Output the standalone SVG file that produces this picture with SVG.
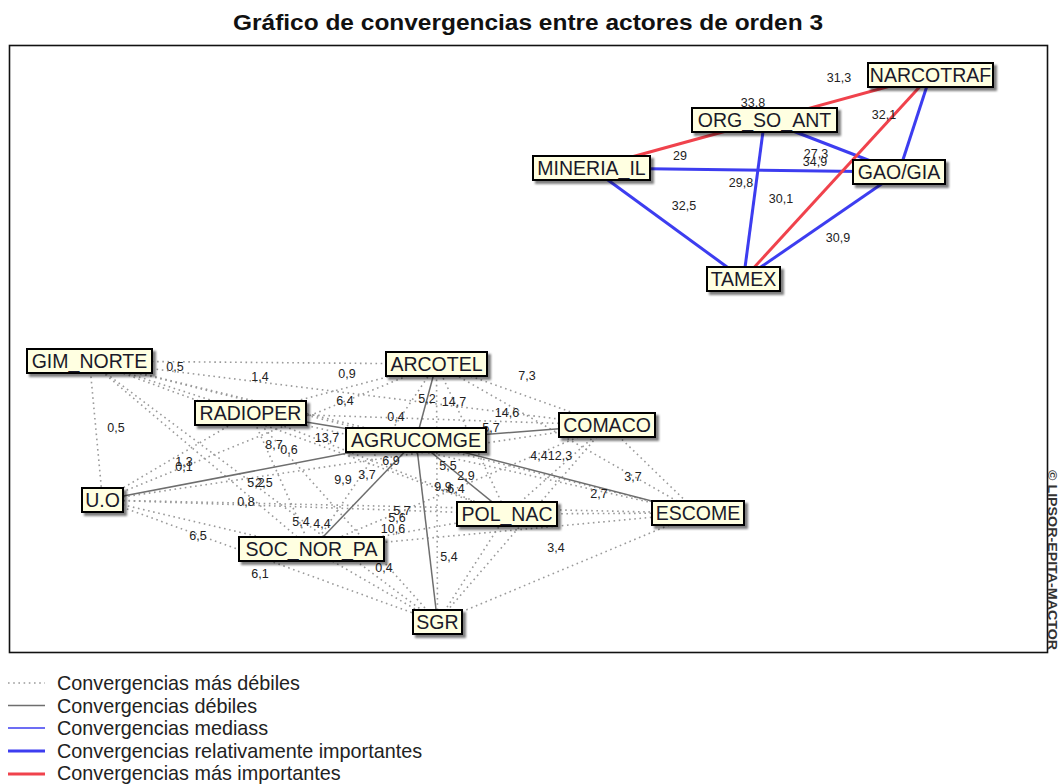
<svg xmlns="http://www.w3.org/2000/svg" width="1058" height="784" viewBox="0 0 1058 784">
  <defs>
    <filter id="shadow" x="-20%" y="-30%" width="150%" height="180%">
      <feDropShadow dx="3" dy="3" stdDeviation="1.3" flood-color="#000" flood-opacity="0.5"/>
    </filter>
    <style>
      .dot { stroke: #9a9a9a; stroke-width: 1.6; stroke-dasharray: 1.6 3.6; fill: none; }
      .weak { stroke: #6e6e6e; stroke-width: 1.5; fill: none; }
      .mid { stroke: #3d3df0; stroke-width: 1.5; fill: none; }
      .rel { stroke: #3d3df0; stroke-width: 3; fill: none; }
      .top { stroke: #f0424c; stroke-width: 3; fill: none; }
      .node rect { fill: #ffffe1; stroke: #000; stroke-width: 2; filter: url(#shadow); }
      .node text { font-family: "Liberation Sans", Arial, sans-serif; font-size: 19.5px; fill: #1a1a2a; text-anchor: middle; }
      .val { font-family: "Liberation Sans", Arial, sans-serif; font-size: 12.5px; fill: #222; text-anchor: middle; }
      .title { font-family: "Liberation Sans", Arial, sans-serif; font-size: 22px; font-weight: bold; fill: #111; text-anchor: middle; }
      .leg { font-family: "Liberation Sans", Arial, sans-serif; font-size: 19.8px; fill: #222; }
    </style>
  </defs>

  <rect width="1058" height="784" fill="#fff"/>

  <text class="title" x="528" y="30" textLength="590" lengthAdjust="spacingAndGlyphs">Gráfico de convergencias entre actores de orden 3</text>

  <!-- plot frame -->
  <rect x="9.5" y="45.5" width="1038" height="607" fill="none" stroke="#111" stroke-width="1.6"/>

  <text x="1048" y="470" transform="rotate(90 1048 470)" font-family="'Liberation Sans', Arial, sans-serif" font-size="12" font-weight="bold" fill="#333" textLength="180" lengthAdjust="spacingAndGlyphs">© LIPSOR-EPITA-MACTOR</text>

  <g id="connectors">
    <!-- weakest convergences (dotted) -->
    <g class="dot">
      <line x1="89.5" y1="361" x2="250.5" y2="413"/>
      <line x1="89.5" y1="361" x2="102.5" y2="500"/>
      <line x1="89.5" y1="361" x2="436.5" y2="364"/>
      <line x1="89.5" y1="361" x2="416" y2="440"/>
      <line x1="89.5" y1="361" x2="607" y2="425"/>
      <line x1="89.5" y1="361" x2="698" y2="513"/>
      <line x1="89.5" y1="361" x2="507" y2="514"/>
      <line x1="89.5" y1="361" x2="437.5" y2="622"/>
      <line x1="89.5" y1="361" x2="311.5" y2="549"/>
      <line x1="250.5" y1="413" x2="102.5" y2="500"/>
      <line x1="250.5" y1="413" x2="436.5" y2="364"/>
      <line x1="250.5" y1="413" x2="607" y2="425"/>
      <line x1="250.5" y1="413" x2="698" y2="513"/>
      <line x1="250.5" y1="413" x2="507" y2="514"/>
      <line x1="250.5" y1="413" x2="437.5" y2="622"/>
      <line x1="250.5" y1="413" x2="311.5" y2="549"/>
      <line x1="102.5" y1="500" x2="436.5" y2="364"/>
      <line x1="102.5" y1="500" x2="607" y2="425"/>
      <line x1="102.5" y1="500" x2="698" y2="513"/>
      <line x1="102.5" y1="500" x2="507" y2="514"/>
      <line x1="102.5" y1="500" x2="437.5" y2="622"/>
      <line x1="102.5" y1="500" x2="311.5" y2="549"/>
      <line x1="436.5" y1="364" x2="607" y2="425"/>
      <line x1="436.5" y1="364" x2="698" y2="513"/>
      <line x1="436.5" y1="364" x2="507" y2="514"/>
      <line x1="436.5" y1="364" x2="437.5" y2="622"/>
      <line x1="436.5" y1="364" x2="311.5" y2="549"/>
      <line x1="607" y1="425" x2="698" y2="513"/>
      <line x1="607" y1="425" x2="507" y2="514"/>
      <line x1="607" y1="425" x2="437.5" y2="622"/>
      <line x1="607" y1="425" x2="311.5" y2="549"/>
      <line x1="698" y1="513" x2="507" y2="514"/>
      <line x1="698" y1="513" x2="437.5" y2="622"/>
      <line x1="698" y1="513" x2="311.5" y2="549"/>
      <line x1="507" y1="514" x2="437.5" y2="622"/>
      <line x1="507" y1="514" x2="311.5" y2="549"/>
      <line x1="437.5" y1="622" x2="311.5" y2="549"/>
    </g>
    <!-- weak convergences -->
    <g class="weak">
      <line x1="416" y1="440" x2="250.5" y2="413"/>
      <line x1="416" y1="440" x2="436.5" y2="364"/>
      <line x1="416" y1="440" x2="607" y2="425"/>
      <line x1="416" y1="440" x2="102.5" y2="500"/>
      <line x1="416" y1="440" x2="311.5" y2="549"/>
      <line x1="416" y1="440" x2="437.5" y2="622"/>
      <line x1="416" y1="440" x2="507" y2="514"/>
      <line x1="416" y1="440" x2="698" y2="513"/>
    </g>
    <!-- relatively important convergences -->
    <g class="rel">
      <line x1="591.5" y1="168" x2="899" y2="172"/>
      <line x1="764.5" y1="120" x2="899" y2="172"/>
      <line x1="930.5" y1="75" x2="899" y2="172"/>
      <line x1="764.5" y1="120" x2="743.5" y2="279"/>
      <line x1="591.5" y1="168" x2="743.5" y2="279"/>
      <line x1="899" y1="172" x2="743.5" y2="279"/>
    </g>
    <!-- most important convergences -->
    <g class="top">
      <line x1="930.5" y1="75" x2="591.5" y2="168"/>
      <line x1="930.5" y1="75" x2="743.5" y2="279"/>
    </g>
  </g>

  <g id="values" class="val">
    <text x="839" y="82">31,3</text>
    <text x="753" y="107">33,8</text>
    <text x="680" y="160">29</text>
    <text x="816" y="158">27,3</text>
    <text x="815" y="166">34,9</text>
    <text x="741" y="187">29,8</text>
    <text x="781" y="203">30,1</text>
    <text x="884" y="119">32,1</text>
    <text x="684" y="210">32,5</text>
    <text x="838" y="242">30,9</text>

    <text x="175" y="371">0,5</text>
    <text x="260" y="381">1,4</text>
    <text x="347" y="378">0,9</text>
    <text x="527" y="380">7,3</text>
    <text x="116" y="432">0,5</text>
    <text x="345" y="405">6,4</text>
    <text x="396" y="421">0,4</text>
    <text x="427" y="403">5,2</text>
    <text x="454" y="406">14,7</text>
    <text x="507" y="417">14,6</text>
    <text x="491" y="432">5,7</text>
    <text x="327" y="442">13,7</text>
    <text x="274" y="449">8,7</text>
    <text x="289" y="454">0,6</text>
    <text x="184" y="466">1,3</text>
    <text x="184" y="471">0,1</text>
    <text x="539" y="460">4,4</text>
    <text x="560" y="460">12,3</text>
    <text x="391" y="465">6,9</text>
    <text x="343" y="484">9,9</text>
    <text x="367" y="479">3,7</text>
    <text x="448" y="470">5,5</text>
    <text x="466" y="480">2,9</text>
    <text x="443" y="491">9,9</text>
    <text x="456" y="493">6,4</text>
    <text x="633" y="481">3,7</text>
    <text x="599" y="498">2,7</text>
    <text x="256" y="487">5,2</text>
    <text x="264" y="487">2,5</text>
    <text x="246" y="506">0,8</text>
    <text x="301" y="526">5,4</text>
    <text x="322" y="528">4,4</text>
    <text x="402" y="515">5,7</text>
    <text x="397" y="522">5,6</text>
    <text x="393" y="533">10,6</text>
    <text x="198" y="540">6,5</text>
    <text x="260" y="578">6,1</text>
    <text x="384" y="572">0,4</text>
    <text x="449" y="561">5,4</text>
    <text x="556" y="552">3,4</text>
  </g>

  <g id="NARCOTRAF" class="node"><rect x="868" y="63" width="125" height="24"/><text x="930.5" y="82">NARCOTRAF</text></g>
  <g id="ORG_SO_ANT" class="node"><rect x="692" y="108" width="145" height="24"/><text x="764.5" y="127">ORG_SO_ANT</text></g>
  <g id="MINERIA_IL" class="node"><rect x="533" y="156" width="117" height="24"/><text x="591.5" y="175">MINERIA_IL</text></g>
  <g id="GAO_GIA" class="node"><rect x="853" y="160" width="92" height="24"/><text x="899" y="179">GAO/GIA</text></g>
  <g id="TAMEX" class="node"><rect x="707" y="267" width="73" height="24"/><text x="743.5" y="286">TAMEX</text></g>

  <g id="GIM_NORTE" class="node"><rect x="27" y="349" width="125" height="24"/><text x="89.5" y="368">GIM_NORTE</text></g>
  <g id="RADIOPER" class="node"><rect x="195" y="401" width="111" height="24"/><text x="250.5" y="420">RADIOPER</text></g>
  <g id="U_O" class="node"><rect x="82" y="488" width="41" height="24"/><text x="102.5" y="507">U.O</text></g>
  <g id="ARCOTEL" class="node"><rect x="386" y="352" width="101" height="24"/><text x="436.5" y="371">ARCOTEL</text></g>
  <g id="AGRUCOMGE" class="node"><rect x="346" y="428" width="140" height="24"/><text x="416" y="447">AGRUCOMGE</text></g>
  <g id="COMACO" class="node"><rect x="559" y="413" width="96" height="24"/><text x="607" y="432">COMACO</text></g>
  <g id="ESCOME" class="node"><rect x="652" y="501" width="92" height="24"/><text x="698" y="520">ESCOME</text></g>
  <g id="POL_NAC" class="node"><rect x="457" y="502" width="100" height="24"/><text x="507" y="521">POL_NAC</text></g>
  <g id="SGR" class="node"><rect x="413" y="610" width="49" height="24"/><text x="437.5" y="629">SGR</text></g>
  <g id="SOC_NOR_PA" class="node"><rect x="239" y="537" width="145" height="24"/><text x="311.5" y="556">SOC_NOR_PA</text></g>

  <g id="legend">
    <line x1="8" y1="683" x2="45" y2="683" class="dot"/>
    <line x1="8" y1="705.5" x2="45" y2="705.5" class="weak"/>
    <line x1="8" y1="728" x2="45" y2="728" class="mid"/>
    <line x1="8" y1="751" x2="45" y2="751" class="rel"/>
    <line x1="8" y1="774" x2="45" y2="774" class="top"/>
    <text class="leg" x="57" y="690">Convergencias más débiles</text>
    <text class="leg" x="57" y="712.5">Convergencias débiles</text>
    <text class="leg" x="57" y="735">Convergencias mediass</text>
    <text class="leg" x="57" y="757.5">Convergencias relativamente importantes</text>
    <text class="leg" x="57" y="780">Convergencias más importantes</text>
  </g>
</svg>
